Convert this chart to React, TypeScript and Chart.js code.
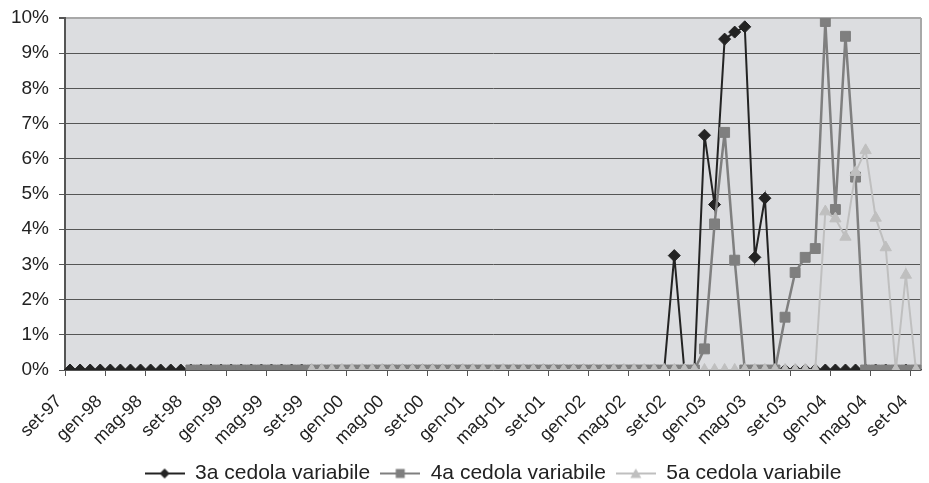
import React, { useEffect, useRef } from 'react';
import { Chart, registerables } from 'chart.js';

Chart.register(...registerables);

const categories = [
  'set-97', 'ott-97', 'nov-97', 'dic-97',
  'gen-98', 'feb-98', 'mar-98', 'apr-98', 'mag-98', 'giu-98', 'lug-98', 'ago-98', 'set-98', 'ott-98', 'nov-98', 'dic-98',
  'gen-99', 'feb-99', 'mar-99', 'apr-99', 'mag-99', 'giu-99', 'lug-99', 'ago-99', 'set-99', 'ott-99', 'nov-99', 'dic-99',
  'gen-00', 'feb-00', 'mar-00', 'apr-00', 'mag-00', 'giu-00', 'lug-00', 'ago-00', 'set-00', 'ott-00', 'nov-00', 'dic-00',
  'gen-01', 'feb-01', 'mar-01', 'apr-01', 'mag-01', 'giu-01', 'lug-01', 'ago-01', 'set-01', 'ott-01', 'nov-01', 'dic-01',
  'gen-02', 'feb-02', 'mar-02', 'apr-02', 'mag-02', 'giu-02', 'lug-02', 'ago-02', 'set-02', 'ott-02', 'nov-02', 'dic-02',
  'gen-03', 'feb-03', 'mar-03', 'apr-03', 'mag-03', 'giu-03', 'lug-03', 'ago-03', 'set-03', 'ott-03', 'nov-03', 'dic-03',
  'gen-04', 'feb-04', 'mar-04', 'apr-04', 'mag-04', 'giu-04', 'lug-04', 'ago-04', 'set-04',
];

const tickLabels = [
  'set-97', 'gen-98', 'mag-98', 'set-98', 'gen-99', 'mag-99', 'set-99', 'gen-00', 'mag-00', 'set-00', 'gen-01',
  'mag-01', 'set-01', 'gen-02', 'mag-02', 'set-02', 'gen-03', 'mag-03', 'set-03', 'gen-04', 'mag-04', 'set-04',
];

const yTickValues = [0, 1, 2, 3, 4, 5, 6, 7, 8, 9, 10];

const seriesNames = ['3a cedola variabile', '4a cedola variabile', '5a cedola variabile'];

// values in %
const cedola3a: (number | null)[] = [
  0, 0, 0, 0,
  0, 0, 0, 0, 0, 0, 0, 0, 0, 0, 0, 0,
  0, 0, 0, 0, 0, 0, 0, 0, 0, 0, 0, 0,
  0, 0, 0, 0, 0, 0, 0, 0, 0, 0, 0, 0,
  0, 0, 0, 0, 0, 0, 0, 0, 0, 0, 0, 0,
  0, 0, 0, 0, 0, 0, 0, 0, 3.25, 0, 0, 6.67,
  4.7, 9.4, 9.6, 9.75, 3.2, 4.88, 0, 0, 0, 0, 0, 0,
  0, 0, 0, 0, 0, 0, 0, 0, 0,
];

const cedola4a: (number | null)[] = [
  null, null, null, null,
  null, null, null, null, null, null, null, null, 0, 0, 0, 0,
  0, 0, 0, 0, 0, 0, 0, 0, 0, 0, 0, 0,
  0, 0, 0, 0, 0, 0, 0, 0, 0, 0, 0, 0,
  0, 0, 0, 0, 0, 0, 0, 0, 0, 0, 0, 0,
  0, 0, 0, 0, 0, 0, 0, 0, 0, 0, 0, 0.6,
  4.15, 6.75, 3.12, 0, 0, 0, 0, 1.5, 2.77, 3.2, 3.45, 9.9,
  4.56, 9.48, 5.48, 0, 0, 0, 0, 0, 0,
];

const cedola5a: (number | null)[] = [
  null, null, null, null,
  null, null, null, null, null, null, null, null, null, null, null, null,
  null, null, null, null, null, null, null, null, 0, 0, 0, 0,
  0, 0, 0, 0, 0, 0, 0, 0, 0, 0, 0, 0,
  0, 0, 0, 0, 0, 0, 0, 0, 0, 0, 0, 0,
  0, 0, 0, 0, 0, 0, 0, 0, 0, 0, 0, 0,
  0, 0, 0, 0, 0, 0, 0, 0, 0, 0, 0, 4.5,
  4.3, 3.78, 5.62, 6.24, 4.32, 3.48, 0, 2.7, 0,
];

const COL3 = '#232323';
const COL4 = '#7f7f7f';
const COL5 = '#bfbfbf';
const FONT = "'Liberation Sans', Arial, Helvetica, sans-serif";

function makeIcon(color: string, shape: 'diamond' | 'square' | 'triangle'): HTMLCanvasElement {
  const c = document.createElement('canvas');
  c.width = 40;
  c.height = 14;
  const g = c.getContext('2d')!;
  g.strokeStyle = color;
  g.lineWidth = 2;
  g.beginPath();
  g.moveTo(0, 7);
  g.lineTo(40, 7);
  g.stroke();
  g.fillStyle = color;
  g.beginPath();
  if (shape === 'diamond') {
    g.moveTo(20, 2);
    g.lineTo(25, 7);
    g.lineTo(20, 12);
    g.lineTo(15, 7);
  } else if (shape === 'square') {
    g.rect(15.5, 2.5, 9, 9);
  } else {
    g.moveTo(20, 2);
    g.lineTo(25.5, 11.5);
    g.lineTo(14.5, 11.5);
  }
  g.closePath();
  g.fill();
  return c;
}

export default function App() {
  const ref = useRef<HTMLCanvasElement | null>(null);

  useEffect(() => {
    if (!ref.current) return;
    const icons = [makeIcon(COL3, 'diamond'), makeIcon(COL4, 'square'), makeIcon(COL5, 'triangle')];

    const helper = {
      id: 'helper',
      beforeDraw(chart: any) {
        const { ctx, chartArea: a } = chart;
        ctx.save();
        ctx.fillStyle = '#dcdde0';
        ctx.fillRect(a.left, a.top, a.right - a.left, a.bottom - a.top);
        ctx.restore();
      },
      beforeDatasetsDraw(chart: any) {
        const { ctx, chartArea: a } = chart;
        ctx.save();
        ctx.strokeStyle = '#a8a8a8';
        ctx.lineWidth = 2;
        ctx.beginPath();
        ctx.moveTo(a.right, a.top);
        ctx.lineTo(a.right, a.bottom);
        ctx.stroke();
        ctx.restore();
      },
    };

    const chart = new Chart(ref.current, {
      type: 'line',
      data: {
        labels: categories,
        datasets: [
          {
            label: seriesNames[0],
            data: cedola3a,
            borderColor: COL3,
            backgroundColor: COL3,
            pointBackgroundColor: COL3,
            pointBorderColor: COL3,
            borderWidth: 2,
            pointStyle: 'rectRot',
            pointRadius: 6,
            pointBorderWidth: 1,
            tension: 0,
            order: 3,
          },
          {
            label: seriesNames[1],
            data: cedola4a,
            borderColor: COL4,
            backgroundColor: COL4,
            pointBackgroundColor: COL4,
            pointBorderColor: COL4,
            borderWidth: 2.5,
            pointStyle: 'rect',
            pointRadius: 7,
            pointBorderWidth: 1,
            tension: 0,
            order: 2,
          },
          {
            label: seriesNames[2],
            data: cedola5a,
            borderColor: COL5,
            backgroundColor: COL5,
            pointBackgroundColor: COL5,
            pointBorderColor: COL5,
            borderWidth: 2,
            pointStyle: 'triangle',
            pointRadius: 6.5,
            pointBorderWidth: 1,
            tension: 0,
            order: 1,
          },
        ],
      },
      options: {
        animation: false,
        responsive: true,
        maintainAspectRatio: false,
        layout: { padding: { left: 0, right: 4, top: 18, bottom: -11 } },
        plugins: {
          tooltip: { enabled: false },
          legend: {
            position: 'bottom',
            fullSize: false,
            labels: {
              usePointStyle: true,
              pointStyleWidth: 40,
              padding: 10,
              color: '#222',
              font: { family: FONT, size: 21 },
              generateLabels: (ch: any) =>
                ch.data.datasets.map((ds: any, i: number) => ({
                  text: ds.label,
                  fillStyle: ds.borderColor,
                  strokeStyle: ds.borderColor,
                  lineWidth: 0,
                  pointStyle: icons[i],
                  datasetIndex: i,
                  hidden: false,
                  fontColor: '#222',
                })),
            },
          },
        },
        scales: {
          x: {
            type: 'category',
            offset: true,
            afterFit: (s: any) => {
              s.height = 83;
              s.paddingLeft = 0;
              s.paddingRight = 0;
            },
            grid: {
              offset: true,
              drawOnChartArea: false,
              drawTicks: true,
              tickLength: 6,
              color: (c: any) => (tickLabels.includes(categories[c.index]) ? '#555' : 'rgba(0,0,0,0)'),
              tickColor: (c: any) => (tickLabels.includes(categories[c.index]) ? '#555' : 'rgba(0,0,0,0)'),
            },
            border: { display: true, color: '#555', width: 1.5 },
            ticks: {
              autoSkip: false,
              maxRotation: 45,
              minRotation: 45,
              padding: 15,
              labelOffset: -11,
              color: '#222',
              font: { family: FONT, size: 18 },
              callback: (_v: any, i: number) => (tickLabels.includes(categories[i]) ? categories[i] : ''),
            },
          },
          y: {
            min: 0,
            max: 10,
            afterFit: (s: any) => {
              s.width = 65;
              s.paddingTop = 0;
              s.paddingBottom = 0;
            },
            afterBuildTicks: (s: any) => {
              s.ticks = yTickValues.map((v) => ({ value: v }));
            },
            grid: {
              color: (c: any) => (c.tick && c.tick.value === 10 ? '#a8a8a8' : '#555'),
              lineWidth: (c: any) => (c.tick && c.tick.value === 10 ? 2 : 1),
              tickColor: '#555',
              tickLength: 6,
            },
            border: { display: true, color: '#555', width: 2 },
            ticks: {
              padding: 10,
              color: '#222',
              font: { family: FONT, size: 19 },
              callback: (v: any) => v + '%',
            },
          },
        },
      },
      plugins: [helper],
    } as any);

    return () => chart.destroy();
  }, []);

  return (
    <div style={{ position: 'fixed', left: 0, top: 0, width: 929, height: 483, background: '#fff' }}>
      <canvas ref={ref} />
    </div>
  );
}
